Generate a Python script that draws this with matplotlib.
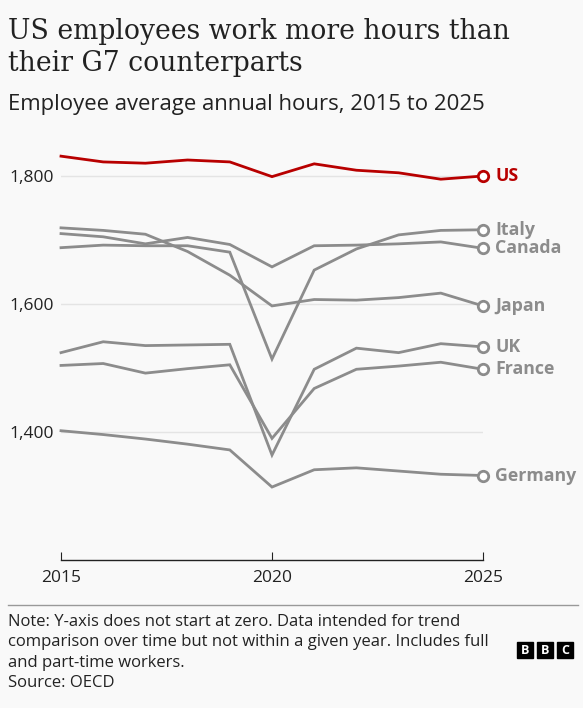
import matplotlib
matplotlib.use("Agg")
from matplotlib import pyplot as plt
from matplotlib.patches import Rectangle

years = list(range(2015, 2026))
us = [1831, 1822, 1820, 1825, 1822, 1799, 1819, 1809, 1805, 1795, 1800]
italy = [1688, 1692, 1691, 1691, 1681, 1514, 1653, 1686, 1708, 1715, 1716]
canada = [1710, 1705, 1694, 1704, 1693, 1658, 1691, 1692, 1694, 1697, 1687]
japan = [1719, 1715, 1709, 1682, 1645, 1597, 1607, 1606, 1610, 1617, 1597]
uk = [1524, 1541, 1535, 1536, 1537, 1364, 1498, 1531, 1524, 1538, 1533]
france = [1504, 1507, 1492, 1499, 1505, 1390, 1468, 1498, 1503, 1509, 1498]
germany = [1402, 1396, 1389, 1381, 1372, 1314, 1341, 1344, 1339, 1334, 1332]

series = {
    "Germany": germany, "France": france, "UK": uk, "Japan": japan,
    "Canada": canada, "Italy": italy, "US": us,
}
y_ticks = [1400, 1600, 1800]
x_ticks = [2015, 2020, 2025]

W, H = 583, 708
BG = "#f9f9f9"
GREY = "#8c8c8c"
RED = "#b80000"
SANS = ["Open Sans", "DejaVu Sans"]

fig = plt.figure(figsize=(W / 100, H / 100), dpi=100, facecolor=BG)

def px(x, y):
    return x / W, 1 - y / H

# axes: 2015 at x=61, 2025 at x=483; 1200 at y=560, 1850 at y=144
ax = fig.add_axes([61 / W, 1 - 560 / H, 422 / W, (560 - 144) / H])
ax.set_facecolor(BG)
ax.set_xlim(2015, 2025)
ax.set_ylim(1200, 1850)
for s in ["top", "right", "left"]:
    ax.spines[s].set_visible(False)
ax.spines["bottom"].set_color("#222222")
ax.spines["bottom"].set_linewidth(1)
ax.set_yticks(y_ticks)
ax.set_yticklabels([f"{v:,}" for v in y_ticks])
ax.set_xticks(x_ticks)
ax.tick_params(axis="y", length=0, pad=5, labelsize=12.5, labelcolor="#222222")
ax.tick_params(axis="x", direction="in", length=6, color="#222222", pad=7,
               labelsize=12.5, labelcolor="#222222")
for lab in ax.get_xticklabels() + ax.get_yticklabels():
    lab.set_family(SANS)
ax.grid(axis="y", color="#e4e4e4", linewidth=1)
ax.set_axisbelow(True)

for name, vals in series.items():
    col = RED if name == "US" else GREY
    ax.plot(years, vals, color=col, linewidth=2.0, solid_joinstyle="miter",
            clip_on=False, zorder=3 if name == "US" else 2)
    ax.plot(years[-1], vals[-1], marker="o", markersize=7.5, markerfacecolor="white",
            markeredgecolor=col, markeredgewidth=2, clip_on=False, zorder=4)
    ax.annotate(name, (years[-1], vals[-1]), xytext=(9, 0), textcoords="offset points",
                va="center", ha="left", fontsize=12.8, fontweight="bold", color=col,
                family=SANS, annotation_clip=False)

fig.text(*px(8, 18), "US employees work more hours than\ntheir G7 counterparts",
         fontsize=19.2, family="DejaVu Serif", color="#222222", va="top",
         linespacing=1.26, ha="left")
fig.text(*px(8, 110), "Employee average annual hours, 2015 to 2025", fontsize=15.9,
         family=SANS, color="#222222", va="baseline")

fig.add_artist(plt.Line2D([8 / W, 578 / W], [1 - 605 / H] * 2, color="#999999",
                          linewidth=1))
fig.text(*px(8, 614), "Note: Y-axis does not start at zero. Data intended for trend\n"
         "comparison over time but not within a given year. Includes full\n"
         "and part-time workers.\nSource: OECD", fontsize=12, family=SANS,
         color="#222222", va="top", linespacing=1.36)

# BBC blocks
for i, ch in enumerate("BBC"):
    x0 = 517 + i * 20
    fig.add_artist(Rectangle((x0 / W, 1 - 658 / H), 16 / W, 16 / H,
                             transform=fig.transFigure, color="black"))
    fig.text((x0 + 8) / W, 1 - 650 / H, ch, color="white", fontsize=9,
             fontweight="bold", ha="center", va="center", family=SANS)

fig.savefig("out.png", dpi=100, facecolor=BG)
